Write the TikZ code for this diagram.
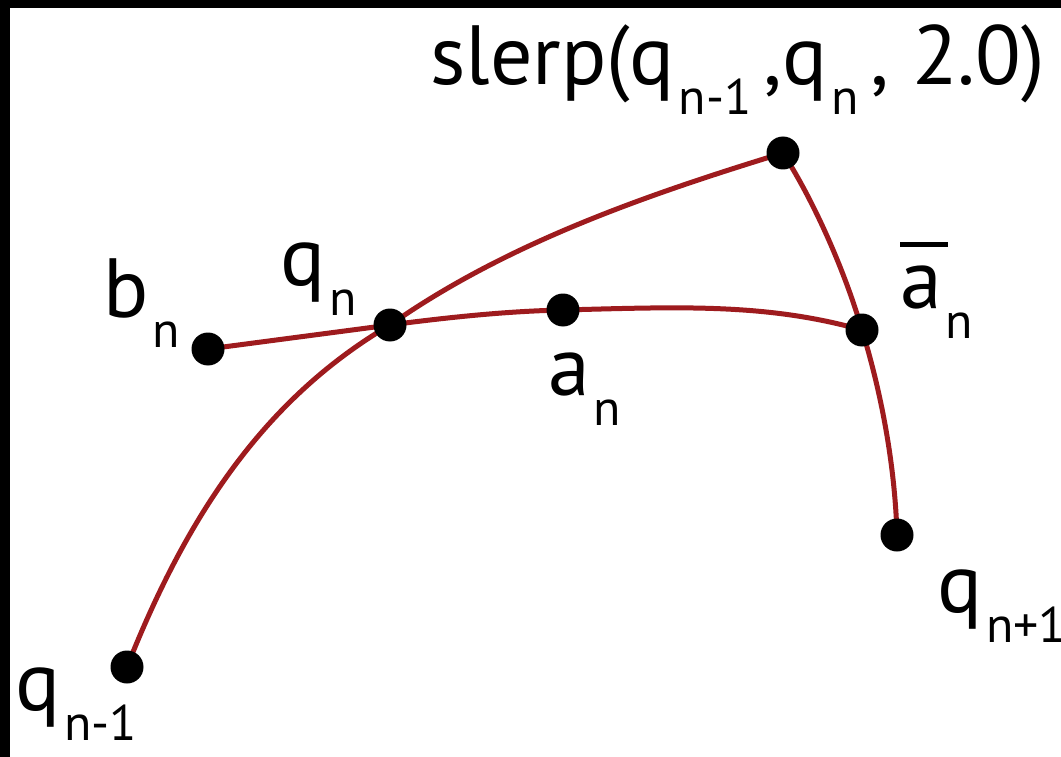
\documentclass[tikz,border=0pt]{standalone}
\usepackage{fontspec}
\setmainfont{PT Sans}
\definecolor{curvered}{HTML}{9E1B1E}
\newcommand{\sbs}[1]{\hspace{4pt}\raisebox{-30pt}{\fontsize{50}{50}\selectfont #1}}
\pgfdeclarelayer{back}
\pgfdeclarelayer{lines}
\pgfsetlayers{back,lines,main}
\begin{document}
\begin{tikzpicture}[x=1pt,y=-1pt,
  dot/.style={circle,fill=black,inner sep=0pt,minimum size=33pt},
  lbl/.style={anchor=base west,inner sep=0pt,font=\fontsize{84}{90}\selectfont},
  arc/.style={draw=curvered,line width=5pt,line cap=round}]
\begin{pgfonlayer}{back}
\fill[black] (0,0) rectangle (1061,757);
\fill[white] (10,8) rectangle (1061,757);
\end{pgfonlayer}
\useasboundingbox (0,0) rectangle (1061,757);
% points
\node[dot] (qm) at (127,667) {};
\node[dot] (bn) at (208,349) {};
\node[dot] (qn) at (390,325) {};
\node[dot] (an) at (563,310) {};
\node[dot] (ab) at (862,330) {};
\node[dot] (sl) at (783,153) {};
\node[dot] (qp) at (897,535) {};
% curves
\begin{pgfonlayer}{lines}
\draw[arc] (qm.center) .. controls (185,520) and (262,400) .. (qn.center)
  .. controls (507,243) and (646,195) .. (sl.center);
\draw[arc] (bn.center) -- (qn.center)
  .. controls (450,317) and (510,311) .. (an.center)
  .. controls (680,307) and (766,303) .. (ab.center);
\draw[arc] (sl.center) .. controls (815,203) and (845,272) .. (ab.center)
  .. controls (882,395) and (895,467) .. (qp.center);
\end{pgfonlayer}
% labels
\node[lbl] (tsl) at (430,85) {slerp(q\sbs{n-1}\hspace{12pt},q\sbs{n}\hspace{12pt}, 2.0)};
\node[lbl] (tbn) at (103,317) {b\sbs{n}};
\node[lbl] (tqn) at (280,285) {q\sbs{n}};
\node[lbl] (tan) at (548,395) {a\sbs{n}};
\node[lbl] (tab) at (900,308) {\rlap{\rule[61pt]{48pt}{5pt}}a\sbs{n}};
\node[lbl] (tqp) at (937,612) {q\sbs{n+1}};
\node[lbl] (tqm) at (15,710) {q\sbs{n-1}};
\end{tikzpicture}
\end{document}
